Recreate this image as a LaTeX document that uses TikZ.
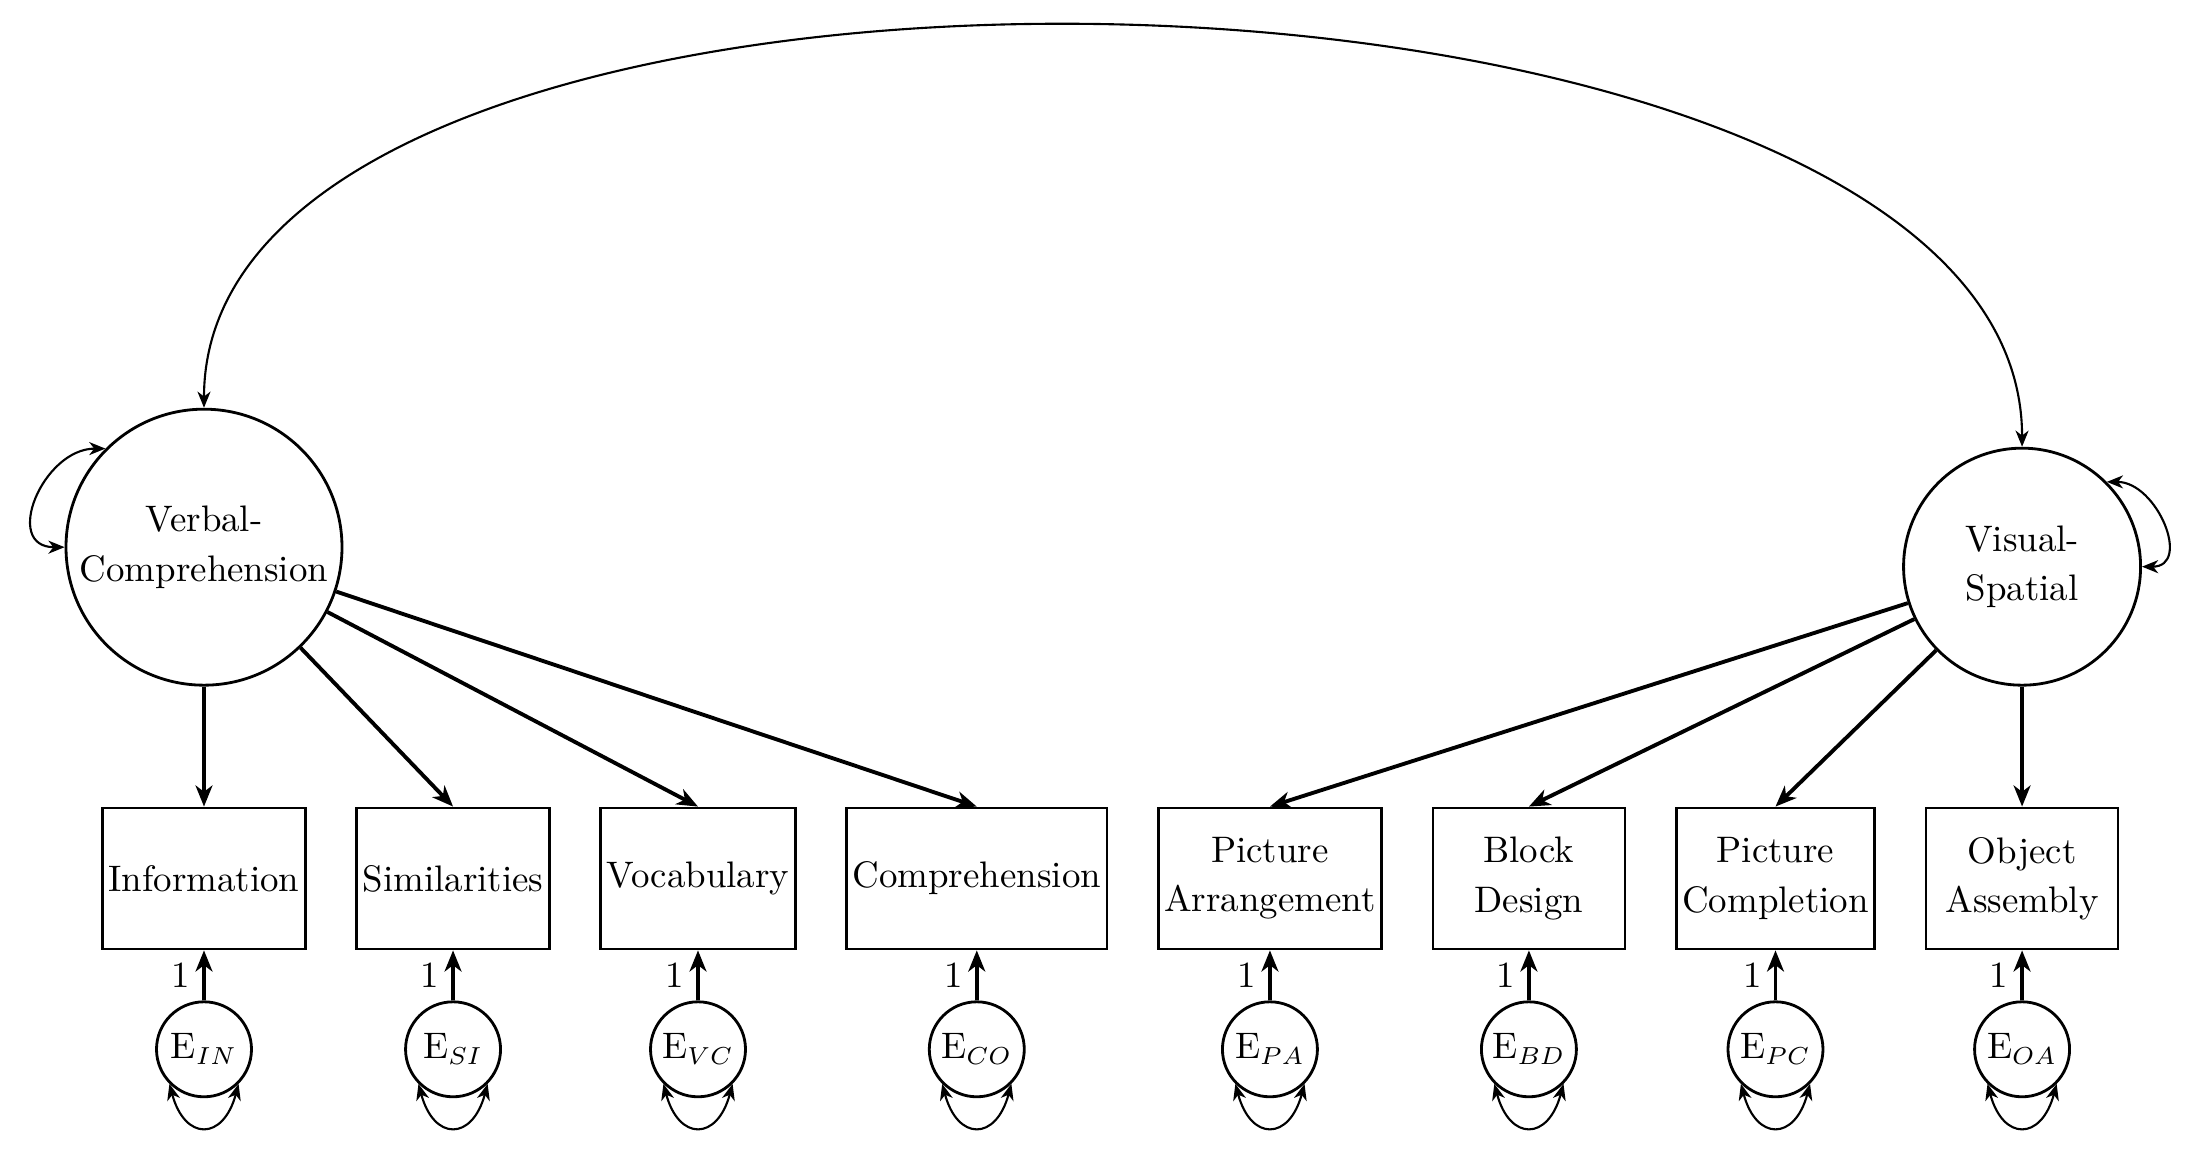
\documentclass[tikz,border=0pt]{standalone}
\usepackage{amsmath}
\usepackage{tikz}
\usetikzlibrary{arrows,arrows.meta,calc,shapes,positioning}

\begin{document}
\begin{tikzpicture}[
    node distance = 0.485cm,
    font = \fontsize{10.5pt}{14pt}\selectfont
  ]

  \useasboundingbox (0,0) rectangle (22.02,11.52);

  \tikzstyle {every node} = [align = center]
  \tikzstyle {latent} = [circle, draw, thick, minimum size = 2.37cm, inner sep = 1pt]
  \tikzstyle {obs} = [rectangle, draw, thick, minimum width = 1.92cm, minimum height = 1.41cm, inner sep = 1.7pt]
  \tikzstyle {err} = [circle, draw, thick, minimum size = 0.95cm, inner sep = 0]
  \tikzstyle {load} = [>={Stealth[length=6pt, width=4.8pt, inset=1.8pt]}, ->, line width = 1.1pt]
  \tikzstyle {cov} = [>={Stealth[length=4.6pt, width=3.7pt, inset=1.4pt]}, <->, semithick]

  % observed scores
  \node [obs] (IN) at (2.04,2.735) {Information};
  \node [obs, right = of IN] (SI) {Similarities};
  \node [obs, right = of SI] (VC) {Vocabulary};
  \node [obs, right = of VC] (CO) {Comprehension};
  \node [obs, right = of CO] (PA) {Picture\\Arrangement};
  \node [obs, right = of PA] (BD) {Block\\Design};
  \node [obs, right = of BD] (PC) {Picture\\Completion};
  \node [obs, right = of PC] (OA) {Object\\Assembly};

  % factors
  \node [latent, minimum size = 2.76cm, above = 1.2cm of IN] (verb) {Verbal-\\Comprehension};
  \node [latent, above = 1.2cm of OA] (vis) {Visual-\\Spatial};

  % errors
  \node [err, below = 0.5cm of IN] (eIN) {E$_{IN}$};
  \node [err, below = 0.5cm of SI] (eSI) {E$_{SI}$};
  \node [err, below = 0.5cm of VC] (eVC) {E$_{VC}$};
  \node [err, below = 0.5cm of CO] (eCO) {E$_{CO}$};
  \node [err, below = 0.5cm of PA] (ePA) {E$_{PA}$};
  \node [err, below = 0.5cm of BD] (eBD) {E$_{BD}$};
  \node [err, below = 0.5cm of PC] (ePC) {E$_{PC}$};
  \node [err, below = 0.5cm of OA] (eOA) {E$_{OA}$};

  \draw [load] (verb) -- (IN.north);
  \draw [load] (verb) -- (SI.north);
  \draw [load] (verb) -- (VC.north);
  \draw [load] (verb) -- (CO.north);
  \draw [load] (vis) -- (PA.north);
  \draw [load] (vis) -- (BD.north);
  \draw [load] (vis) -- (PC.north);
  \draw [load] (vis) -- (OA.north);

  \draw [load] (eIN) -- node[left] {1} (IN);
  \draw [load] (eSI) -- node[left] {1} (SI);
  \draw [load] (eVC) -- node[left] {1} (VC);
  \draw [load] (eCO) -- node[left] {1} (CO);
  \draw [load] (ePA) -- node[left] {1} (PA);
  \draw [load] (eBD) -- node[left] {1} (BD);
  \draw [load] (ePC) -- node[left] {1} (PC);
  \draw [load] (eOA) -- node[left] {1} (OA);

  % variances
  \draw [cov] (eIN.225) to[out=285, in=255, looseness=2.2] (eIN.315);
  \draw [cov] (eSI.225) to[out=285, in=255, looseness=2.2] (eSI.315);
  \draw [cov] (eVC.225) to[out=285, in=255, looseness=2.2] (eVC.315);
  \draw [cov] (eCO.225) to[out=285, in=255, looseness=2.2] (eCO.315);
  \draw [cov] (ePA.225) to[out=285, in=255, looseness=2.2] (ePA.315);
  \draw [cov] (eBD.225) to[out=285, in=255, looseness=2.2] (eBD.315);
  \draw [cov] (ePC.225) to[out=285, in=255, looseness=2.2] (ePC.315);
  \draw [cov] (eOA.225) to[out=285, in=255, looseness=2.2] (eOA.315);
  \draw [cov] (verb.135) to[out=180, in=180, looseness=1.5] (verb.180);
  \draw [cov] (vis.45) to[out=0, in=0, looseness=1.4] (vis.0);

  % factor covariance
  \draw [cov] (verb.north) to[out=90, in=90, looseness=0.75] (vis.north);
\end{tikzpicture}
\end{document}
